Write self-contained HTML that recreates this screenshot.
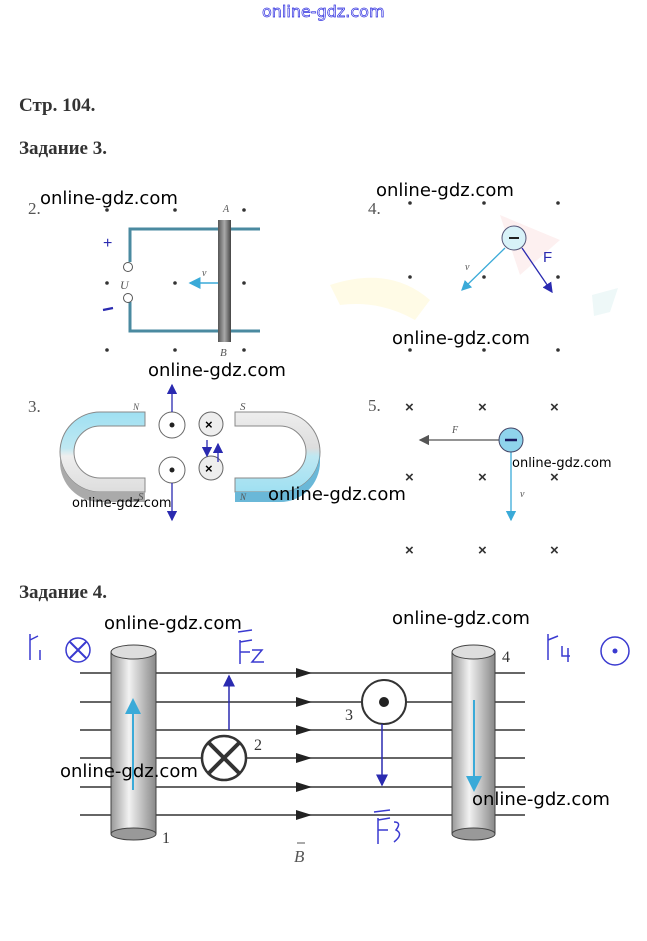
<!DOCTYPE html>
<html><head><meta charset="utf-8"><style>
body{margin:0;background:#fff;}
svg{display:block}
.wm{font-family:"DejaVu Sans","Liberation Sans",sans-serif;font-size:18px;fill:#000}
.h{font-family:"Liberation Serif",serif;font-weight:bold;font-size:19px;fill:#333}
.it{font-family:"Liberation Serif",serif;font-style:italic;fill:#555}
</style></head><body>
<svg width="647" height="941" viewBox="0 0 647 941" xmlns="http://www.w3.org/2000/svg">
<defs>
<linearGradient id="cyl" x1="0" x2="1"><stop offset="0" stop-color="#999"/><stop offset=".4" stop-color="#f2f2f2"/><stop offset="1" stop-color="#888"/></linearGradient>
<linearGradient id="bar" x1="0" x2="1"><stop offset="0" stop-color="#555"/><stop offset=".5" stop-color="#aaa"/><stop offset="1" stop-color="#444"/></linearGradient>
<linearGradient id="mag" x1="0" y1="0" x2="0" y2="1"><stop offset="0" stop-color="#9fe0f2"/><stop offset=".45" stop-color="#bfe8f2"/><stop offset=".55" stop-color="#eee"/><stop offset="1" stop-color="#ddd"/></linearGradient>
<linearGradient id="mag2" x1="0" y1="0" x2="0" y2="1"><stop offset="0" stop-color="#eee"/><stop offset=".45" stop-color="#ddd"/><stop offset=".55" stop-color="#bfe8f2"/><stop offset="1" stop-color="#9fe0f2"/></linearGradient>
<marker id="ab" markerWidth="8" markerHeight="8" refX="7" refY="4" orient="auto"><path d="M0,0 L8,4 L0,8 z" fill="#2a2ab0"/></marker>
<marker id="ac" markerWidth="8" markerHeight="8" refX="7" refY="4" orient="auto"><path d="M0,0 L8,4 L0,8 z" fill="#3aaad8"/></marker>
<marker id="ag" markerWidth="8" markerHeight="8" refX="7" refY="4" orient="auto"><path d="M0,0 L8,4 L0,8 z" fill="#555"/></marker>
</defs>
<path d="M330,285 Q390,265 430,300 L415,320 Q380,300 340,305z" fill="#fffbe6"/>
<path d="M500,215 L560,240 L520,275z" fill="#fdf0f0"/>
<path d="M592,295 L618,288 L610,312 L594,316z" fill="#eef8f8"/>

<text x="262" y="17" font-family="DejaVu Sans,sans-serif" font-size="16" fill="none" stroke="#3030e0" stroke-width="0.7">online-gdz.com</text>
<text x="19" y="111" class="h">Стр. 104.</text>
<text x="19" y="154" class="h">Задание 3.</text>
<text x="19" y="598" class="h">Задание 4.</text>

<!-- Fig 2 -->
<text x="28" y="214" font-family="Liberation Serif" font-size="17" fill="#555">2.</text>
<g fill="#333">
<circle cx="107" cy="210" r="1.8"/><circle cx="175" cy="210" r="1.8"/><circle cx="244" cy="210" r="1.8"/>
<circle cx="107" cy="283" r="1.8"/><circle cx="175" cy="283" r="1.8"/><circle cx="244" cy="283" r="1.8"/>
<circle cx="107" cy="350" r="1.8"/><circle cx="175" cy="350" r="1.8"/><circle cx="244" cy="350" r="1.8"/>
</g>
<path d="M260,229 H130 V262 M130,302 V331 H260" fill="none" stroke="#4a8aa0" stroke-width="3"/>
<circle cx="128" cy="267" r="4.5" fill="#fff" stroke="#555"/>
<circle cx="128" cy="298" r="4.5" fill="#fff" stroke="#555"/>
<rect x="218" y="220" width="13" height="122" fill="url(#bar)"/>
<line x1="218" y1="283" x2="190" y2="283" stroke="#3aaad8" stroke-width="1.5" marker-end="url(#ac)"/>
<text x="202" y="276" class="it" font-size="10">v</text>
<text x="120" y="289" class="it" font-size="12">U</text>
<text x="223" y="212" class="it" font-size="10">A</text>
<text x="220" y="356" class="it" font-size="11">B</text>
<text x="103" y="248" fill="#2a2ab0" font-size="16" font-family="Liberation Sans">+</text>
<line x1="103" y1="310" x2="113" y2="308" stroke="#2a2ab0" stroke-width="2.2"/>
<text x="40" y="204" class="wm">online-gdz.com</text>
<text x="148" y="376" class="wm">online-gdz.com</text>

<!-- Fig 3 -->
<text x="28" y="412" font-family="Liberation Serif" font-size="17" fill="#555">3.</text>
<path d="M145,412 H100 A40,40 0 0 0 100,492 H145 V478 H100 A26,26 0 0 1 100,426 H145z" fill="url(#mag)" stroke="#888"/>
<path d="M60,452 V462 A40,40 0 0 0 100,502 H145 V492 H100 A40,40 0 0 1 60,452z" fill="#aaa"/>
<path d="M235,412 H280 A40,40 0 0 1 280,492 H235 V478 H280 A26,26 0 0 0 280,426 H235z" fill="url(#mag2)" stroke="#888"/>
<path d="M320,452 V462 A40,40 0 0 1 280,502 H235 V492 H280 A40,40 0 0 0 320,452z" fill="#6ab8d8"/>
<text x="133" y="410" class="it" font-size="9">N</text>
<text x="138" y="500" class="it" font-size="11">S</text>
<text x="240" y="410" class="it" font-size="11">S</text>
<text x="240" y="500" class="it" font-size="9">N</text>
<circle cx="172" cy="425" r="13" fill="#fff" stroke="#666"/><circle cx="172" cy="425" r="2.5" fill="#222"/>
<circle cx="172" cy="470" r="13" fill="#fff" stroke="#666"/><circle cx="172" cy="470" r="2.5" fill="#222"/>
<circle cx="211" cy="424" r="12" fill="#eee" stroke="#666"/><text x="205" y="429" font-size="13" font-family="Liberation Sans" font-weight="bold">×</text>
<circle cx="211" cy="468" r="12" fill="#eee" stroke="#666"/><text x="205" y="473" font-size="13" font-family="Liberation Sans" font-weight="bold">×</text>
<line x1="172" y1="412" x2="172" y2="385" stroke="#2a2ab0" stroke-width="1.3" marker-end="url(#ab)"/>
<line x1="172" y1="483" x2="172" y2="520" stroke="#2a2ab0" stroke-width="1.3" marker-end="url(#ab)"/>
<line x1="207" y1="440" x2="207" y2="456" stroke="#2a2ab0" stroke-width="1.3" marker-end="url(#ab)"/>
<line x1="218" y1="462" x2="218" y2="444" stroke="#2a2ab0" stroke-width="1.3" marker-end="url(#ab)"/>
<text x="72" y="507" class="wm" font-size="13" style="font-size:13px">online-gdz.com</text>
<text x="268" y="500" class="wm">online-gdz.com</text>

<!-- Fig 4 -->
<text x="368" y="214" font-family="Liberation Serif" font-size="17" fill="#555">4.</text>
<g fill="#333">
<circle cx="410" cy="203" r="1.8"/><circle cx="484" cy="203" r="1.8"/><circle cx="558" cy="203" r="1.8"/>
<circle cx="410" cy="277" r="1.8"/><circle cx="484" cy="277" r="1.8"/><circle cx="558" cy="277" r="1.8"/>
<circle cx="410" cy="350" r="1.8"/><circle cx="484" cy="350" r="1.8"/><circle cx="558" cy="350" r="1.8"/>
</g>
<line x1="505" y1="248" x2="462" y2="290" stroke="#3aaad8" stroke-width="1.3" marker-end="url(#ac)"/>
<line x1="522" y1="248" x2="552" y2="292" stroke="#2a2ab0" stroke-width="1.3" marker-end="url(#ab)"/>
<circle cx="514" cy="238" r="12" fill="#d8f2f8" stroke="#557"/>
<line x1="509" y1="238" x2="519" y2="238" stroke="#222" stroke-width="2"/>
<text x="465" y="270" class="it" font-size="10">v</text>
<text x="543" y="262" font-family="Liberation Sans" font-size="15" fill="#2a2ab0">F</text>
<text x="376" y="196" class="wm">online-gdz.com</text>
<text x="392" y="344" class="wm">online-gdz.com</text>

<!-- Fig 5 -->
<text x="368" y="411" font-family="Liberation Serif" font-size="17" fill="#555">5.</text>
<g font-family="Liberation Sans" font-size="15" font-weight="bold" fill="#333">
<text x="405" y="412">×</text><text x="478" y="412">×</text><text x="550" y="412">×</text>
<text x="405" y="482">×</text><text x="478" y="482">×</text><text x="550" y="482">×</text>
<text x="405" y="555">×</text><text x="478" y="555">×</text><text x="550" y="555">×</text>
</g>
<line x1="499" y1="440" x2="420" y2="440" stroke="#555" stroke-width="1.3" marker-end="url(#ag)"/>
<line x1="511" y1="452" x2="511" y2="520" stroke="#3aaad8" stroke-width="1.3" marker-end="url(#ac)"/>
<circle cx="511" cy="440" r="12" fill="#8fd4ec" stroke="#446"/>
<line x1="505" y1="440" x2="517" y2="440" stroke="#1a1a60" stroke-width="2.5"/>
<text x="452" y="433" class="it" font-size="10">F</text>
<text x="520" y="497" class="it" font-size="10">v</text>
<text x="512" y="467" class="wm" style="font-size:13px">online-gdz.com</text>

<!-- Task 4 -->
<g stroke="#333" stroke-width="1.6">
<line x1="80" y1="673" x2="525" y2="673"/><line x1="80" y1="702" x2="525" y2="702"/>
<line x1="80" y1="730" x2="525" y2="730"/><line x1="80" y1="758" x2="525" y2="758"/>
<line x1="80" y1="787" x2="525" y2="787"/><line x1="80" y1="815" x2="525" y2="815"/>
</g>
<g fill="#222">
<path d="M296,668 L312,673 L296,678z"/><path d="M296,697 L312,702 L296,707z"/>
<path d="M296,725 L312,730 L296,735z"/><path d="M296,753 L312,758 L296,763z"/>
<path d="M296,782 L312,787 L296,792z"/><path d="M296,810 L312,815 L296,820z"/>
</g>
<rect x="111" y="652" width="45" height="182" fill="url(#cyl)" stroke="#444"/>
<ellipse cx="133.5" cy="834" rx="22.5" ry="6" fill="#999" stroke="#444"/>
<ellipse cx="133.5" cy="652" rx="22.5" ry="7" fill="#ddd" stroke="#444"/>
<rect x="452" y="652" width="43" height="182" fill="url(#cyl)" stroke="#444"/>
<ellipse cx="473.5" cy="834" rx="21.5" ry="6" fill="#999" stroke="#444"/>
<ellipse cx="473.5" cy="652" rx="21.5" ry="7" fill="#ddd" stroke="#444"/>
<line x1="133" y1="790" x2="133" y2="700" stroke="#3aaad8" stroke-width="2" marker-end="url(#ac)"/>
<line x1="474" y1="700" x2="474" y2="790" stroke="#3aaad8" stroke-width="2" marker-end="url(#ac)"/>
<circle cx="224" cy="758" r="22" fill="#fff" stroke="#333" stroke-width="2.5"/>
<path d="M209,743 L239,773 M239,743 L209,773" stroke="#333" stroke-width="4"/>
<circle cx="384" cy="702" r="22" fill="#fff" stroke="#333" stroke-width="2"/>
<circle cx="384" cy="702" r="5" fill="#222"/>
<line x1="229" y1="730" x2="229" y2="676" stroke="#2a2ab0" stroke-width="1.5" marker-end="url(#ab)"/>
<line x1="382" y1="724" x2="382" y2="785" stroke="#2a2ab0" stroke-width="1.5" marker-end="url(#ab)"/>
<text x="162" y="843" font-family="Liberation Serif" font-size="16" fill="#333">1</text>
<text x="254" y="750" font-family="Liberation Serif" font-size="16" fill="#333">2</text>
<text x="345" y="720" font-family="Liberation Serif" font-size="16" fill="#333">3</text>
<text x="502" y="662" font-family="Liberation Serif" font-size="16" fill="#333">4</text>
<text x="294" y="862" class="it" font-size="17">B</text>
<line x1="297" y1="843" x2="305" y2="843" stroke="#555"/>
<g fill="none" stroke="#3a3ad0" stroke-width="1.5">
<path d="M30,634 V660 M30,640 L38,636 M40,650 V660"/>
<circle cx="78" cy="650" r="12"/><path d="M70,642 L86,658 M86,642 L70,658" stroke-width="2"/>
<path d="M240,640 V664 M240,642 L252,640 M240,652 L250,652 M252,650 L262,650 L252,662 L264,662 M238,632 L252,630"/>
<path d="M378,818 V844 M378,820 L390,818 M378,830 L388,830 M394,822 Q402,822 396,830 Q404,834 394,842 M374,812 L390,810"/>
<path d="M548,634 V660 M548,640 L558,636 M562,646 V656 L570,656 M568,648 V662"/>
<circle cx="615" cy="651" r="14"/>
</g>
<circle cx="615" cy="651" r="2.5" fill="#3a3ad0"/>
<text x="104" y="629" class="wm">online-gdz.com</text>
<text x="392" y="624" class="wm">online-gdz.com</text>
<text x="60" y="777" class="wm">online-gdz.com</text>
<text x="472" y="805" class="wm">online-gdz.com</text>
</svg>
</body></html>
